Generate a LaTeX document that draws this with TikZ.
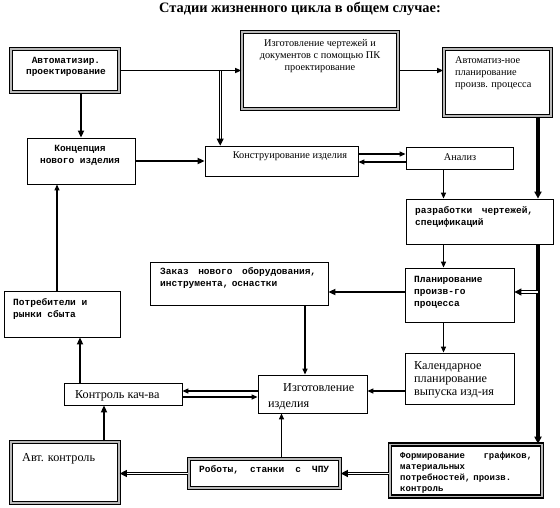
\documentclass[tikz,border=0pt]{standalone}
\usepackage{fontspec}
\setmainfont{Liberation Serif}
\newfontfamily\monofnt{Liberation Mono}
\usepackage{tikz}
\usetikzlibrary{arrows.meta,positioning}

\begin{document}
\begin{tikzpicture}[x=1pt,y=-1pt,
  box/.style={draw, line width=.8pt, inner sep=0pt},
  dbox/.style={draw, line width=1.6pt, double=gray!55, double distance=1.3pt, inner sep=0pt},
  mtxt/.style={font=\monofnt\bfseries\fontsize{9.5}{12}\selectfont, align=left, inner sep=0pt, anchor=base west},
  stxt/.style={font=\fontsize{10.3}{12}\selectfont, align=center, inner sep=0pt, anchor=base},
  ltxt/.style={font=\fontsize{12.2}{13}\selectfont, align=left, inner sep=0pt, anchor=base west},
  con/.style={line width=1.2pt, -{Triangle[length=6pt,width=5pt]}},
  conw/.style={line width=2pt, -{Triangle[length=7pt,width=6pt]}},
  conx/.style={line width=3.5pt, -{Triangle[length=7pt,width=7pt]}},
  cond/.style={double, line width=.9pt, double distance=1.3pt, -{Triangle[length=7pt,width=7pt]}}]
  \useasboundingbox (0,0) rectangle (560,507);
  %title
  \node[font=\bfseries\fontsize{14.4}{16}\selectfont] (T) at (300,9) {Стадии жизненного цикла в общем случае:};
  %boxes
  \node[dbox, minimum width=108, minimum height=43] (A) at (65,70.5) {};
  \node[dbox, minimum width=156, minimum height=77] (B) at (320,70.5) {};
  \node[dbox, minimum width=107, minimum height=67] (C) at (497.5,82.5) {};
  \node[box, minimum width=108, minimum height=46] (D) at (81,161) {};
  \node[box, minimum width=153, minimum height=30] (E) at (281.5,161) {};
  \node[box, minimum width=107, minimum height=22] (F) at (459.5,158) {};
  \node[box, minimum width=147, minimum height=45] (G) at (479.5,221.5) {};
  \node[box, minimum width=109, minimum height=54] (H) at (459.5,295) {};
  \node[box, minimum width=109, minimum height=51] (I) at (460,378.5) {};
  \node[dbox, minimum width=152, minimum height=52] (J) at (466,470.5) {};
  \node[box, minimum width=178, minimum height=43] (K) at (239,283.5) {};
  \node[box, minimum width=109, minimum height=38] (L) at (312.5,394) {};
  \node[box, minimum width=118, minimum height=22] (M) at (123,394) {};
  \node[box, minimum width=116, minimum height=46] (N) at (62,314) {};
  \node[dbox, minimum width=108, minimum height=61] (O) at (65,472.5) {};
  \node[dbox, minimum width=151, minimum height=29] (P) at (264.5,473.5) {};
  %texts (base = last line, or first line with text width)
  \node[mtxt, font=\monofnt\bfseries\fontsize{9.5}{11}\selectfont, align=center, anchor=base] (tA) at (66,74) {Автоматизир.\\проектирование};
  \node[stxt] (tB) at (320,70.5) {Изготовление чертежей и\\документов с помощью ПК\\проектирование};
  \node[stxt, align=left, anchor=base west] (tC) at (455,87) {Автоматиз-ное\\планирование\\произв. процесса};
  \node[mtxt, align=center, anchor=base] (tD) at (80,163) {Концепция\\нового изделия};
  \node[stxt] (tE) at (290,158.5) {Конструирование изделия};
  \node[stxt] (tF) at (460,160.5) {Анализ};
  \node[mtxt, text width=118] (tG) at (415,213) {разработки\hfill чертежей,\\спецификаций};
  \node[mtxt] (tH) at (414,306.5) {Планирование\\произв-го\\процесса};
  \node[ltxt] (tI) at (414,395) {Календарное\\планирование\\выпуска изд-ия};
  \node[mtxt, font=\monofnt\bfseries\fontsize{9}{11}\selectfont, text width=132] (tJ) at (400,458) {Формирование\hfill графиков,\\материальных\\потребностей, произв.\\контроль};
  \node[mtxt, text width=156] (tK) at (160,274) {Заказ\hfill нового\hfill оборудования,\\инструмента, оснастки};
  \node[ltxt, font=\fontsize{12.2}{16}\selectfont] (tL) at (268,407) {\hspace*{15pt}Изготовление\\изделия};
  \node[ltxt] (tM) at (75,398) {Контроль кач-ва};
  \node[mtxt] (tN) at (13,317) {Потребители и\\рынки сбыта};
  \node[ltxt] (tO) at (22,461) {Авт. контроль};
  \node[mtxt, text width=130] (tP) at (199,472) {Роботы,\hfill станки\hfill с\hfill ЧПУ};
  %connectors
  \coordinate (ab) at ([xshift=-21]B.west);
  \coordinate (cx) at ([xshift=40.5]C.south);
  \draw[con] (A.east) -- (B.west);
  \draw[cond] (ab) -- (ab |- E.north);
  \draw[con] (B.east) -- (B.east -| C.west);
  \draw[conw] (D.north |- A.south) -- (D.north);
  \draw[conw] (D.east) -- (E.west);
  \draw[con] ([yshift=4]F.west -| E.east) -- ([yshift=4]F.west);
  \draw[con] ([yshift=-4]F.west) -- ([yshift=-4]F.west -| E.east);
  \draw[con] ([xshift=-16]F.south) -- ([xshift=-16]F.south |- G.north);
  \draw[conx] (cx) -- (cx |- G.north);
  \draw[conx] (cx |- G.south) -- (cx |- J.north);
  \draw[cond] ([yshift=3]H.east -| cx) -- ([yshift=3]H.east);
  \draw[con] ([xshift=-16]H.north |- G.south) -- ([xshift=-16]H.north);
  \draw[conw] ([yshift=3]H.west) -- ([yshift=3]H.west -| K.east);
  \draw[con] ([xshift=-16]H.south) -- ([xshift=-16]H.south |- I.north);
  \draw[con] ([xshift=66]K.south) -- ([xshift=66]K.south |- L.north);
  \draw[con] ([yshift=3]L.east -| I.west) -- ([yshift=3]L.east);
  \draw[con] ([yshift=3]M.east -| L.west) -- ([yshift=3]M.east);
  \draw[con] ([yshift=-3]M.east) -- ([yshift=-3]M.east -| L.west);
  \draw[con] ([xshift=17]P.north) -- ([xshift=17]P.north |- L.south);
  \draw[cond, line width=1.2pt] (P.east -| J.west) -- (P.east);
  \draw[cond] (P.west) -- (P.west -| O.east);
  \draw[conw] ([xshift=39]O.north) -- ([xshift=39]O.north |- M.south);
  \draw[conw] ([xshift=-43]M.north) -- ([xshift=-43]M.north |- N.south);
  \draw[con] ([xshift=-5]N.north) -- ([xshift=-5]N.north |- D.south);
\end{tikzpicture}
\end{document}
